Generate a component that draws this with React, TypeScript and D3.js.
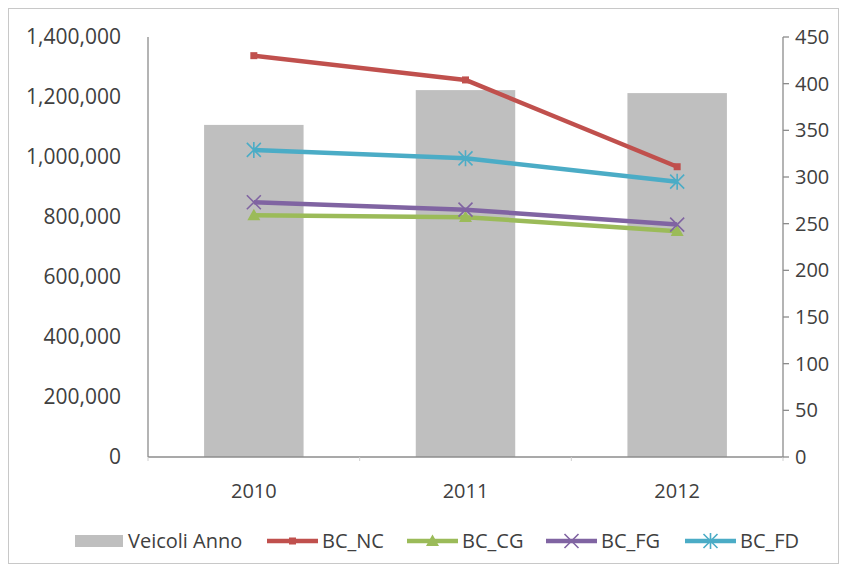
import React from "react";
import * as d3 from "d3";

// Categories and series
const years = ["2010", "2011", "2012"];
const veicoliAnno = [1107000, 1223000, 1213000];
const bcNC = [430, 404, 311];
const bcCG = [259, 257, 242];
const bcFG = [273, 265, 249];
const bcFD = [329, 320, 295];

const leftTicks = [0, 200000, 400000, 600000, 800000, 1000000, 1200000, 1400000];
const rightTicks = [0, 50, 100, 150, 200, 250, 300, 350, 400, 450];

type Marker = "square" | "triangle" | "x" | "star";
const lineSeries: { name: string; values: number[]; color: string; marker: Marker }[] = [
  { name: "BC_NC", values: bcNC, color: "#C0504D", marker: "square" },
  { name: "BC_CG", values: bcCG, color: "#9BBB59", marker: "triangle" },
  { name: "BC_FG", values: bcFG, color: "#8064A2", marker: "x" },
  { name: "BC_FD", values: bcFD, color: "#4BACC6", marker: "star" },
];

const W = 844;
const H = 569;
const plot = { left: 148, right: 783, top: 37, bottom: 457 };
const FONT = "'Open Sans', 'DejaVu Sans', sans-serif";
const TEXT = "#404040";
const AXIS = "#8c8c8c";
const BAR = "#BFBFBF";

function MarkerShape({ type, x, y, color }: { type: Marker; x: number; y: number; color: string }) {
  if (type === "square") {
    return <rect x={x - 3.5} y={y - 3.5} width={7} height={7} fill={color} />;
  }
  if (type === "triangle") {
    const s = 6.5;
    return (
      <path
        d={`M${x},${y - s}L${x + s},${y + s * 0.75}L${x - s},${y + s * 0.75}Z`}
        fill={color}
      />
    );
  }
  const s = 7;
  const xPath = `M${x - s},${y - s}L${x + s},${y + s}M${x - s},${y + s}L${x + s},${y - s}`;
  if (type === "x") {
    return <path d={xPath} stroke={color} strokeWidth={1.6} fill="none" />;
  }
  return (
    <path
      d={`${xPath}M${x},${y - s - 1}L${x},${y + s + 1}`}
      stroke={color}
      strokeWidth={1.6}
      fill="none"
    />
  );
}

export default function App() {
  const x = d3
    .scaleBand<string>()
    .domain(years)
    .range([plot.left, plot.right])
    .paddingInner(0.53)
    .paddingOuter(0.265);
  const yL = d3.scaleLinear().domain([0, 1400000]).range([plot.bottom, plot.top]);
  const yR = d3.scaleLinear().domain([0, 450]).range([plot.bottom, plot.top]);
  const fmt = d3.format(",");
  const cx = (c: string) => (x(c) ?? 0) + x.bandwidth() / 2;
  const step = x.step();

  const line = d3
    .line<number>()
    .x((_, i) => cx(years[i]))
    .y((v) => yR(v));

  // Legend layout
  const legendY = 541;
  const legendItems = [
    { name: "Veicoli Anno", x0: 75, type: "bar" as const },
    ...lineSeries.map((s, i) => ({
      name: s.name,
      x0: [267, 407, 546, 685][i],
      type: "line" as const,
      s,
    })),
  ];

  return (
    <svg width={W} height={H} style={{ display: "block", position: "absolute", left: 0, top: 0 }}>
      <rect x={0} y={0} width={W} height={H} fill="#fff" />
      <rect x={8.5} y={8.5} width={830} height={555} fill="#fff" stroke="#c8c8c8" strokeWidth={1} />

      {/* bars on the left axis */}
      {years.map((c, i) => (
        <rect
          key={c}
          x={x(c)}
          y={yL(veicoliAnno[i])}
          width={x.bandwidth()}
          height={plot.bottom - yL(veicoliAnno[i])}
          fill={BAR}
        />
      ))}

      {/* axes */}
      <line x1={plot.left} x2={plot.left} y1={plot.top} y2={plot.bottom} stroke={AXIS} strokeWidth={1.3} />
      <line x1={plot.right} x2={plot.right} y1={plot.top} y2={plot.bottom} stroke={AXIS} strokeWidth={1.3} />
      <line x1={plot.left} x2={plot.right} y1={plot.bottom} y2={plot.bottom} stroke={AXIS} strokeWidth={1.3} />
      {d3.range(years.length + 1).map((i) => (
        <line
          key={i}
          x1={plot.left + step * i}
          x2={plot.left + step * i}
          y1={plot.bottom}
          y2={plot.bottom + 4}
          stroke="#d0d0d0"
          strokeWidth={1}
        />
      ))}
      {rightTicks.map((t) => (
        <line key={t} x1={plot.right} x2={plot.right + 6} y1={yR(t)} y2={yR(t)} stroke={AXIS} strokeWidth={1.3} />
      ))}

      {/* tick labels */}
      {leftTicks.map((t) => (
        <text
          key={t}
          x={121}
          y={yL(t)}
          dy="0.35em"
          textAnchor="end"
          fontFamily={FONT}
          fontSize={21}
          fill={TEXT}
        >
          {fmt(t)}
        </text>
      ))}
      {rightTicks.map((t) => (
        <text key={t} x={795} y={yR(t)} dy="0.35em" fontFamily={FONT} fontSize={20} fill={TEXT}>
          {t}
        </text>
      ))}
      {years.map((c) => (
        <text
          key={c}
          x={cx(c)}
          y={491}
          dy="0.35em"
          textAnchor="middle"
          fontFamily={FONT}
          fontSize={20}
          fill={TEXT}
        >
          {c}
        </text>
      ))}

      {/* lines on the right axis */}
      {lineSeries.map((s) => (
        <g key={s.name}>
          <path d={line(s.values) ?? ""} fill="none" stroke={s.color} strokeWidth={4.5} strokeLinejoin="round" />
          {s.values.map((v, i) => (
            <MarkerShape key={i} type={s.marker} x={cx(years[i])} y={yR(v)} color={s.color} />
          ))}
        </g>
      ))}

      {/* legend */}
      {legendItems.map((it) =>
        it.type === "bar" ? (
          <g key={it.name}>
            <rect x={it.x0} y={legendY - 6} width={48} height={12} fill={BAR} />
            <text x={it.x0 + 53} y={legendY} dy="0.35em" fontFamily={FONT} fontSize={20} fill={TEXT}>
              {it.name}
            </text>
          </g>
        ) : (
          <g key={it.name}>
            <line x1={it.x0} x2={it.x0 + 51} y1={legendY} y2={legendY} stroke={it.s.color} strokeWidth={4.5} />
            <MarkerShape type={it.s.marker} x={it.x0 + 25.5} y={legendY} color={it.s.color} />
            <text x={it.x0 + 55} y={legendY} dy="0.35em" fontFamily={FONT} fontSize={20} fill={TEXT}>
              {it.name}
            </text>
          </g>
        )
      )}
    </svg>
  );
}
